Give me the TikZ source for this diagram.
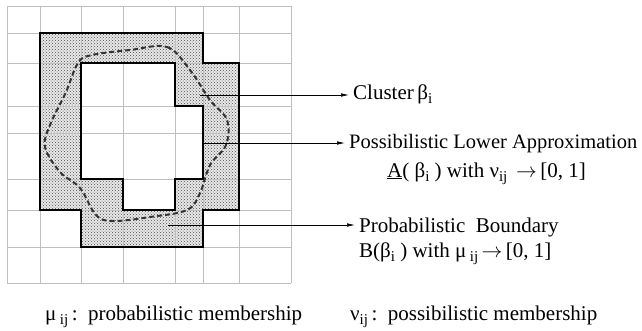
\documentclass[tikz,border=0pt]{standalone}
\usepackage{fontspec}
\setmainfont{Liberation Serif}
\usetikzlibrary{patterns,arrows.meta}
\newcommand{\lsub}[1]{\raisebox{-0.45ex}{\fontsize{15}{15}\selectfont #1}}
\begin{document}
\begin{tikzpicture}[x=1pt,y=-1pt,
  gridline/.style={gray!50, line width=0.8pt},
  bound/.style={black, line width=1.5pt, line join=miter},
  leader/.style={black, line width=0.6pt, -{Latex[length=8pt,width=3.5pt]}, shorten >=4pt},
  clusterline/.style={black!80, line width=2pt, dash pattern=on 5pt off 3pt},
  lbl/.style={anchor=base west, inner sep=0pt, font=\fontsize{21}{24}\selectfont}]
\useasboundingbox (0,0) rectangle (642,330);
% shaded boundary region
\def\region{(40,33) -- (203,33) -- (203,63) -- (239,63) -- (239,210) -- (203,210) -- (203,247) -- (81,247) -- (81,210) -- (40,210) -- cycle
  (81,63) -- (175,63) -- (175,106) -- (203,106) -- (203,179) -- (175,179) -- (175,210) -- (123,210) -- (123,179) -- (81,179) -- cycle}
\fill[gray!18, even odd rule] \region;
\fill[pattern=crosshatch dots, pattern color=black!70, even odd rule] \region;
% grid
\foreach \x in {7,40,81,123,175,203,239,291} \draw[gridline] (\x,6) -- (\x,283);
\foreach \y in {6,33,63,106,133,179,210,247,283} \draw[gridline] (7,\y) -- (291,\y);
% thick borders
\draw[bound] (40,33) -- (203,33) -- (203,63) -- (239,63) -- (239,210) -- (203,210) -- (203,247) -- (81,247) -- (81,210) -- (40,210) -- cycle;
\draw[bound] (81,63) -- (175,63) -- (175,106) -- (203,106) -- (203,179) -- (175,179) -- (175,210) -- (123,210) -- (123,179) -- (81,179) -- cycle;
% cluster outline
\draw[clusterline] plot[smooth cycle, tension=0.6] coordinates {(130,50) (167,47) (190,70) (210,100) (227,120) (226,145) (210,165) (200,193) (187,210) (150,217) (113,221) (96,215) (80,188) (60,172) (45,147) (50,125) (66,92) (78,63) (92,55)};
% labels
\node[lbl] (cl) at (353,99) {Cluster\,β\lsub{i}};
\node[lbl, font=\fontsize{20.5}{24}\selectfont] (pl) at (349,148) {Possibilistic Lower Approximation};
\node[lbl] (al) at (387,177) {\underline{A}( β\lsub{i} ) with ν\lsub{ij} \,$\rightarrow$\,[0, 1]};
\node[lbl] (pb) at (359,232) {Probabilistic\ \ Boundary};
\node[lbl] (bl) at (359,257) {B(β\lsub{i} ) with μ\,\lsub{ij}\,$\rightarrow$\,[0, 1]};
\node[lbl] (leg1) at (45,320) {μ\,\lsub{ij}\,:\ \ probabilistic membership};
\node[lbl] (leg2) at (350,320) {ν\lsub{ij}\,:\ \ possibilistic membership};
% leaders
\coordinate (s1) at (200,95);
\coordinate (s2) at (203,143);
\coordinate (s3) at (168,225);
\draw[leader] (s1) -- (s1 -| cl.west);
\draw[leader] (s2) -- (s2 -| pl.west);
\draw[leader] (s3) -- (s3 -| pb.west);
\end{tikzpicture}
\end{document}
